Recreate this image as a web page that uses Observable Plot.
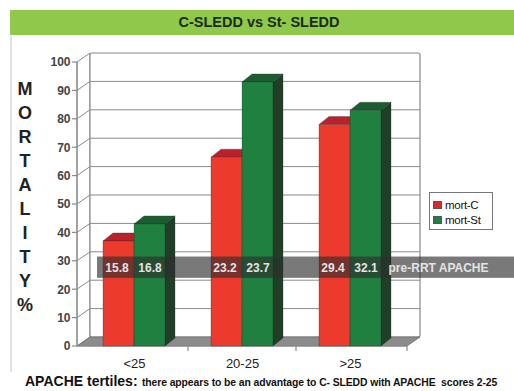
<!DOCTYPE html>
<html><head><meta charset="utf-8">
<script src="https://cdn.jsdelivr.net/npm/d3@7"></script>
<script src="https://cdn.jsdelivr.net/npm/@observablehq/plot@0.6"></script>
<style>
html,body{margin:0;padding:0;background:#fff;}
#wrap{position:relative;width:514px;height:391px;overflow:hidden;font-family:Arial,"Liberation Sans",sans-serif;background:#fff;}
#frame{position:absolute;left:10px;top:36px;width:2px;height:336px;background:#e2e2e2;}
#title{position:absolute;left:10px;top:10px;width:504px;height:25px;background:#8fc84a;color:#1c2c1c;font-weight:bold;font-size:14.5px;line-height:25px;text-align:center;padding-right:6px;box-sizing:border-box;}
#chart{position:absolute;left:0;top:0;}
#ytitle{position:absolute;left:13px;top:77px;width:24px;text-align:center;font-weight:bold;font-size:18px;line-height:24px;color:#222;}
#legend{position:absolute;left:429px;top:192px;width:64px;height:38px;border:1px solid #777;box-sizing:border-box;font-size:11.5px;color:#111;padding:4px 0 0 3px;background:#fff;}
#legend .it{display:flex;align-items:center;height:15px;letter-spacing:-0.3px;}
#legend .sw{width:9px;height:8px;margin-right:3px;border:1px solid #555;box-sizing:border-box;}
#caption{position:absolute;left:25px;top:372px;white-space:nowrap;color:#111;font-weight:bold;}
#caption .big{font-size:14px;}
#caption .small{font-size:10.4px;letter-spacing:-0.1px;}
</style></head><body>
<div id="wrap">
  <div id="frame"></div>
  <div id="title"></div>
  <div id="chart"></div>
  <div id="ytitle"></div>
  <div id="legend"></div>
  <div id="caption"><span class="big"></span> <span class="small"></span></div>
</div>
<script>
// ---- data ----
const titleText = "C-SLEDD vs St- SLEDD";
const yTitleLetters = ["M","O","R","T","A","L","I","T","Y","%"];
const categories = ["<25", "20-25", ">25"];
const seriesNames = ["mort-C", "mort-St"];
const mortC = [37, 66.5, 78];
const mortSt = [43, 93, 83];
const apacheC = ["15.8", "23.2", "29.4"];
const apacheSt = ["16.8", "23.7", "32.1"];
const yTicks = [0, 10, 20, 30, 40, 50, 60, 70, 80, 90, 100];
const bandLabel = "pre-RRT APACHE";
const bandRange = [24, 31.5];
const captionBig = "APACHE tertiles:";
const captionSmall = "there appears to be an advantage to C- SLEDD with APACHE\u00a0 scores 2-25";

// ---- styles ----
const colors = {
  C: {front: "#ec3a2d", top: "#b9222b", side: "#8e1a1f"},
  St: {front: "#1f8040", top: "#1d5c31", side: "#213f28"}
};
const W = 514, H = 391;
const M = {top: 62, bottom: 45, left: 77, right: 107};
const padIn = 0.43, padOut = 0.23;
const bw = ((W - M.left - M.right) / (categories.length - padIn + 2 * padOut)) * (1 - padIn);
const WALL = {dx: 13, dy: -9};
const DEPTH = {dx: 10, dy: -8};

const rows = [];
categories.forEach((c, i) => {
  rows.push({cat: c, series: seriesNames[0], value: mortC[i], apache: apacheC[i], s: 0});
  rows.push({cat: c, series: seriesNames[1], value: mortSt[i], apache: apacheSt[i], s: 1});
});
const rowsC = rows.filter(d => d.s === 0);
const rowsSt = rows.filter(d => d.s === 1);
const bandMid = (bandRange[0] + bandRange[1]) / 2;

function wallMark(index, scales, values, dim) {
  const {x, y} = scales;
  const x0 = dim.marginLeft, x1 = dim.width - dim.marginRight;
  const y0 = y(0), yT = y(100);
  const g = d3.create("svg:g");
  const gray = "#8a8a8a";
  g.append("path").attr("d", `M${x0},${y0}L${x0},${yT}L${x0+WALL.dx},${yT+WALL.dy}L${x0+WALL.dx},${y0+WALL.dy}Z`)
    .attr("fill", "#fff").attr("stroke", gray);
  g.append("rect").attr("x", x0+WALL.dx).attr("y", yT+WALL.dy).attr("width", x1-x0).attr("height", y0-yT)
    .attr("fill", "#fff").attr("stroke", gray).attr("stroke-width", 1.2).attr("rx", 2);
  for (const v of yTicks) {
    if (v === 0 || v === 100) continue;
    g.append("path").attr("d", `M${x0},${y(v)}L${x0+WALL.dx},${y(v)+WALL.dy}L${x1+WALL.dx},${y(v)+WALL.dy}`)
      .attr("fill", "none").attr("stroke", gray).attr("stroke-width", 1);
  }
  // floor
  g.append("path").attr("d", `M${x0},${y0}L${x1},${y0}L${x1+WALL.dx},${y0+WALL.dy}L${x0+WALL.dx},${y0+WALL.dy}Z`)
    .attr("fill", "#8c8c8c").attr("stroke", "#707070").attr("stroke-width", 0.8);
  // front axis line and ticks
  g.append("line").attr("x1", x0).attr("x2", x0).attr("y1", y0).attr("y2", yT).attr("stroke", gray).attr("stroke-width", 1.2);
  for (const v of yTicks) {
    g.append("line").attr("x1", x0-5).attr("x2", x0).attr("y1", y(v)).attr("y2", y(v)).attr("stroke", gray).attr("stroke-width", 1.2);
  }
  // category boundary ticks on floor edge
  const b = x.bandwidth ? x.bandwidth() : bw;
  for (let i = 0; i < categories.length; i++) {
    const xe = i < categories.length - 1 ? (x(categories[i]) + b + x(categories[i+1])) / 2 : x1;
    g.append("line").attr("x1", xe).attr("x2", xe).attr("y1", y0).attr("y2", y0+5).attr("stroke", gray).attr("stroke-width", 1.2);
  }
  g.append("line").attr("x1", x0).attr("x2", x1).attr("y1", y0).attr("y2", y0).attr("stroke", gray).attr("stroke-width", 1);
  return g.node();
}

function extrusion(data, col) {
  return (index, scales, values, dim) => {
    const {x, y} = scales;
    const b = x.bandwidth ? x.bandwidth() : bw;
    const g = d3.create("svg:g").attr("stroke", "#222").attr("stroke-opacity", 0.45).attr("stroke-width", 0.6);
    for (const d of data) {
      const xa = x(d.cat) + (d.s ? b / 2 : 0), xb = xa + b / 2;
      const yt = y(d.value), yb = y(0);
      g.append("path").attr("d", `M${xb},${yt}L${xb+DEPTH.dx},${yt+DEPTH.dy}L${xb+DEPTH.dx},${yb+DEPTH.dy}L${xb},${yb}Z`).attr("fill", col.side);
      g.append("path").attr("d", `M${xa},${yt}L${xb},${yt}L${xb+DEPTH.dx},${yt+DEPTH.dy}L${xa+DEPTH.dx},${yt+DEPTH.dy}Z`).attr("fill", col.top);
    }
    return g.node();
  };
}

function bandMark(index, scales, values, dim) {
  const {x, y} = scales;
  const xs = x(categories[0]) - 6;
  return d3.create("svg:rect").attr("x", xs).attr("width", dim.width - xs)
    .attr("y", y(bandRange[1])).attr("height", y(bandRange[0]) - y(bandRange[1]))
    .attr("fill", "#2e2e2e").attr("fill-opacity", 0.64).node();
}

const bandText = {y: () => bandMid, fill: "#e4e4e4", fontWeight: "bold", fontSize: 12};

const chart = Plot.plot({
  width: W, height: H,
  marginTop: M.top, marginBottom: M.bottom, marginLeft: M.left, marginRight: M.right,
  style: {background: "transparent", fontFamily: "Arial, 'Liberation Sans', sans-serif"},
  x: {domain: categories, paddingInner: padIn, paddingOuter: padOut, axis: null},
  y: {domain: [0, 100], axis: null},
  marks: [
    wallMark,
    extrusion(rowsC, colors.C),
    Plot.barY(rowsC, {x: "cat", y: "value", fill: colors.C.front, insetRight: bw / 2, stroke: "#222", strokeOpacity: 0.45, strokeWidth: 0.6}),
    extrusion(rowsSt, colors.St),
    Plot.barY(rowsSt, {x: "cat", y: "value", fill: colors.St.front, insetLeft: bw / 2, stroke: "#222", strokeOpacity: 0.45, strokeWidth: 0.6}),
    bandMark,
    Plot.text(rowsC, {x: "cat", text: "apache", dx: -bw / 4 - 2, ...bandText}),
    Plot.text(rowsSt, {x: "cat", text: "apache", dx: bw / 4, ...bandText}),
    Plot.axisY(yTicks, {tickSize: 0, tickPadding: 7, fontSize: 12, fontWeight: "bold", color: "#444", label: null}),
    Plot.axisX({tickSize: 0, tickPadding: 12, fontSize: 13, color: "#222", label: null}),
    Plot.text([{cat: categories[categories.length - 1], label: bandLabel}], {x: "cat", text: "label", dx: bw / 2 + 7, textAnchor: "start", ...bandText})
  ]
});
document.getElementById("chart").appendChild(chart);

// HTML text parts
document.getElementById("title").textContent = titleText;
document.getElementById("ytitle").innerHTML = yTitleLetters.map(l => `<div>${l}</div>`).join("");
document.getElementById("legend").innerHTML = seriesNames.map((n, i) =>
  `<div class="it"><span class="sw" style="background:${i ? colors.St.front : "#d92b2b"}"></span>${n}</div>`).join("");
document.querySelector("#caption .big").textContent = captionBig;
document.querySelector("#caption .small").textContent = captionSmall;
</script>
</body></html>
